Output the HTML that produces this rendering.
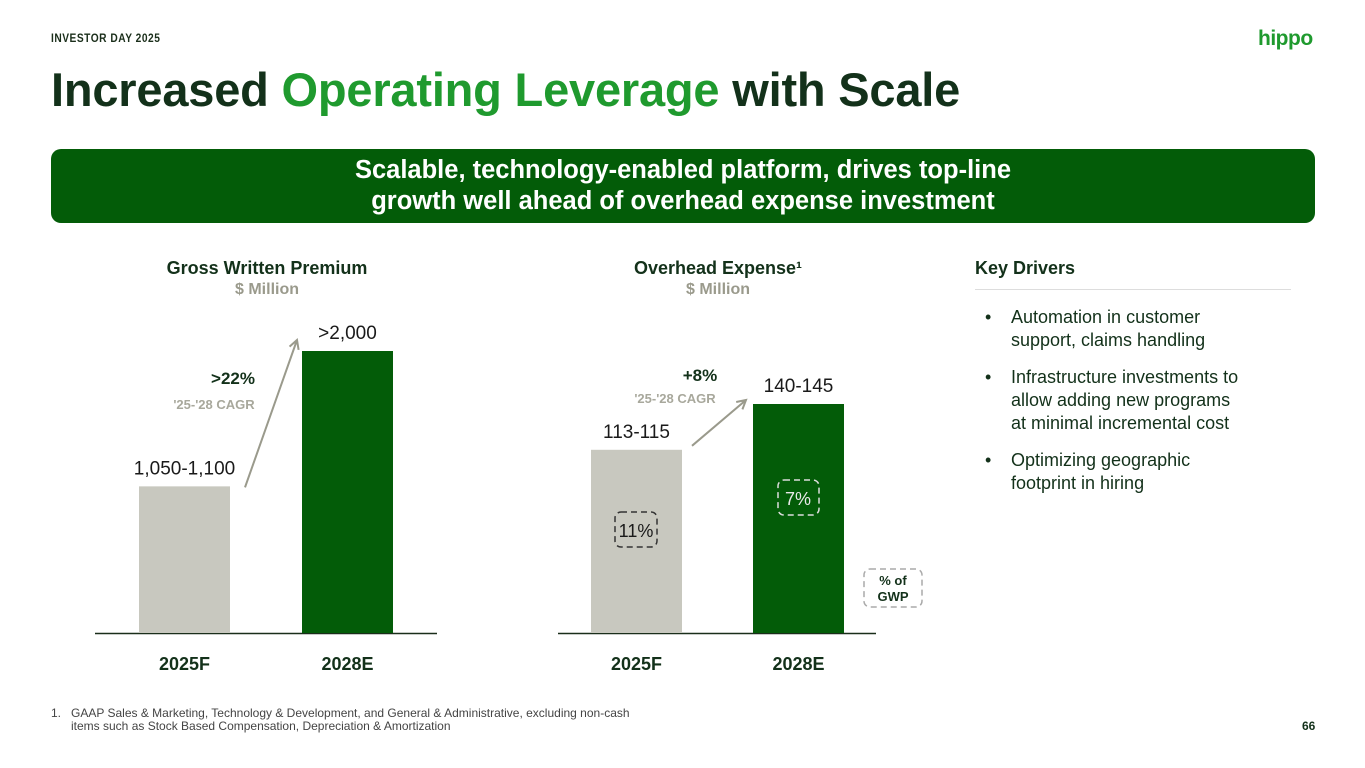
<!DOCTYPE html>
<html><head><meta charset="utf-8">
<style>
body{margin:0;width:1365px;height:768px;background:#fff;font-family:"Liberation Sans",sans-serif;position:relative;overflow:hidden}
.a{position:absolute}
.c{text-align:center}
</style></head><body>
<div class="a" style="left:51px;top:31px;font-size:12px;font-weight:bold;letter-spacing:0.6px;color:#1a2e1a;transform:scaleX(0.85);transform-origin:left">INVESTOR DAY 2025</div>
<div class="a" style="left:1258px;top:27px;font-size:21px;font-weight:bold;color:#1f9a2e;letter-spacing:-0.5px">hippo</div>
<div class="a" style="left:51px;top:62px;font-size:47px;font-weight:bold;color:#13311a;letter-spacing:-0.2px">Increased <span style="color:#1f9a2e">Operating Leverage</span> with Scale</div>
<div class="a c" style="left:51px;top:149px;width:1264px;height:74px;background:#035c08;border-radius:10px;color:#fff;font-size:25.5px;font-weight:bold;line-height:31px;padding-top:6px;box-sizing:border-box">Scalable, technology-enabled platform, drives top-line<br>growth well ahead of overhead expense investment</div>

<div class="a c" style="left:117px;top:258px;width:300px;font-size:18px;font-weight:bold;color:#13311a">Gross Written Premium</div>
<div class="a c" style="left:117px;top:281px;width:300px;font-size:16px;font-weight:bold;color:#9a9a8c">$ Million</div>
<div class="a c" style="left:568px;top:258px;width:300px;font-size:18px;font-weight:bold;color:#13311a">Overhead Expense¹</div>
<div class="a c" style="left:568px;top:281px;width:300px;font-size:16px;font-weight:bold;color:#9a9a8c">$ Million</div>

<svg class="a" style="left:0;top:0" width="1365" height="768" id="chart"></svg>

<div class="a" style="left:975px;top:258px;font-size:18px;font-weight:bold;color:#13311a">Key Drivers</div>
<div class="a" style="left:975px;top:289px;width:316px;height:1px;background:#ddd"></div>
<div class="a" style="left:985px;top:306px;width:280px;font-size:18px;line-height:23px;color:#13311a">
<div style="position:relative;padding-left:26px;margin-bottom:14px;width:230px"><span style="position:absolute;left:0">•</span>Automation in customer support, claims handling</div>
<div style="position:relative;padding-left:26px;margin-bottom:14px;width:236px"><span style="position:absolute;left:0">•</span>Infrastructure investments to allow adding new programs at minimal incremental cost</div>
<div style="position:relative;padding-left:26px;width:230px"><span style="position:absolute;left:0">•</span>Optimizing geographic footprint in hiring</div>
</div>
<div class="a" style="left:51px;top:707px;font-size:12px;line-height:13px;color:#444">1.&nbsp;&nbsp; GAAP Sales &amp; Marketing, Technology &amp; Development, and General &amp; Administrative, excluding non-cash<br>&nbsp;&nbsp;&nbsp;&nbsp;&nbsp; items such as Stock Based Compensation, Depreciation &amp; Amortization</div>
<div class="a" style="left:1302px;top:719px;font-size:12px;font-weight:bold;color:#13311a">66</div>

<script>
const gwpCategories=["2025F","2028E"];
const gwpValues=[1040,2000];
const gwpLabels=["1,050-1,100",">2,000"];
const oheCategories=["2025F","2028E"];
const oheValues=[114,142.5];
const oheLabels=["113-115","140-145"];
const ohePct=["11%","7%"];
const colors=["#c8c8bf","#035c08"];
const NS="http://www.w3.org/2000/svg";
const svg=document.getElementById('chart');
function mk(t,a,txt){const e=document.createElementNS(NS,t);for(const k in a)e.setAttribute(k,a[k]);if(txt!==undefined)e.textContent=txt;svg.appendChild(e);return e;}
const base=633;
function drawChart(cfg){
  const y=v=>base-v*cfg.scale;
  const ax=mk('line',{x1:cfg.axX1,x2:cfg.axX2,y1:base+0.5,y2:base+0.5,stroke:'#1a2e1a','stroke-width':1.5});
  
  
  cfg.vals.forEach((v,i)=>{
    const x=cfg.xs[i];
    const r=mk('rect',{x:x,y:y(v),width:91,height:base-y(v),fill:colors[i]});
    
    
    const l=mk('text',{x:x+45.5,y:y(v)-12,'text-anchor':'middle','font-size':19,fill:'#1a1a1a'},cfg.labels[i]);
    
    
    const c=mk('text',{x:x+45.5,y:670,'text-anchor':'middle','font-size':18,'font-weight':'bold',fill:'#13311a'},cfg.cats[i]);
    
    
  });
  return y;
}
const y1=drawChart({id:'gwp',vals:gwpValues,labels:gwpLabels,cats:gwpCategories,xs:[139,302],scale:282/2000,axX1:95,axX2:437});
const y2=drawChart({id:'ohe',vals:oheValues,labels:oheLabels,cats:oheCategories,xs:[591,753],scale:229/142.5,axX1:558,axX2:876});
function arrow(x1,yy1,x2,yy2,name){
  const ang=Math.atan2(yy2-yy1,x2-x1);
  const g=mk('path',{d:`M${x1},${yy1}L${x2},${yy2}M${x2-10*Math.cos(ang-0.5)},${yy2-10*Math.sin(ang-0.5)}L${x2},${yy2}L${x2-10*Math.cos(ang+0.5)},${yy2-10*Math.sin(ang+0.5)}`,stroke:'#9a9a8c','stroke-width':2,fill:'none'});
  
  
}
arrow(245,y1(gwpValues[0])+1,297,y1(gwpValues[1])-11,'gwp-growth-arrow');
arrow(692,y2(oheValues[0])-4,746,y2(oheValues[1])-4,'ohe-growth-arrow');
function txt(x,y,s,fs,w,fill,name){const t=mk('text',{x:x,y:y,'text-anchor':'middle','font-size':fs,'font-weight':w,fill:fill},s);}
txt(233,384,'>22%',17,'bold','#13311a','gwp-cagr-value');
txt(214,409,"'25-'28 CAGR",13,'bold','#a8a89c','gwp-cagr-label');
txt(700,381,'+8%',17,'bold','#13311a','ohe-cagr-value');
txt(675,403,"'25-'28 CAGR",13,'bold','#a8a89c','ohe-cagr-label');
function dbox(x,y,w,h,stroke,name){const r=mk('rect',{x:x,y:y,width:w,height:h,rx:6,fill:'none',stroke:stroke,'stroke-width':1.5,'stroke-dasharray':'6 4'});}
dbox(615,512,42,35,'#333','pct-box-2025');
txt(636,537,ohePct[0],18,'normal','#1a1a1a','pct-gwp-2025');
dbox(778,480,41,35,'#ddd','pct-box-2028');
txt(798,505,ohePct[1],18,'normal','#e8e8e8','pct-gwp-2028');
dbox(864,569,58,38,'#aaa','pct-legend-box');
txt(893,585,'% of',13,'bold','#13311a','pct-legend-line1');
txt(893,601,'GWP',13,'bold','#13311a','pct-legend-line2');
</script>
</body></html>
